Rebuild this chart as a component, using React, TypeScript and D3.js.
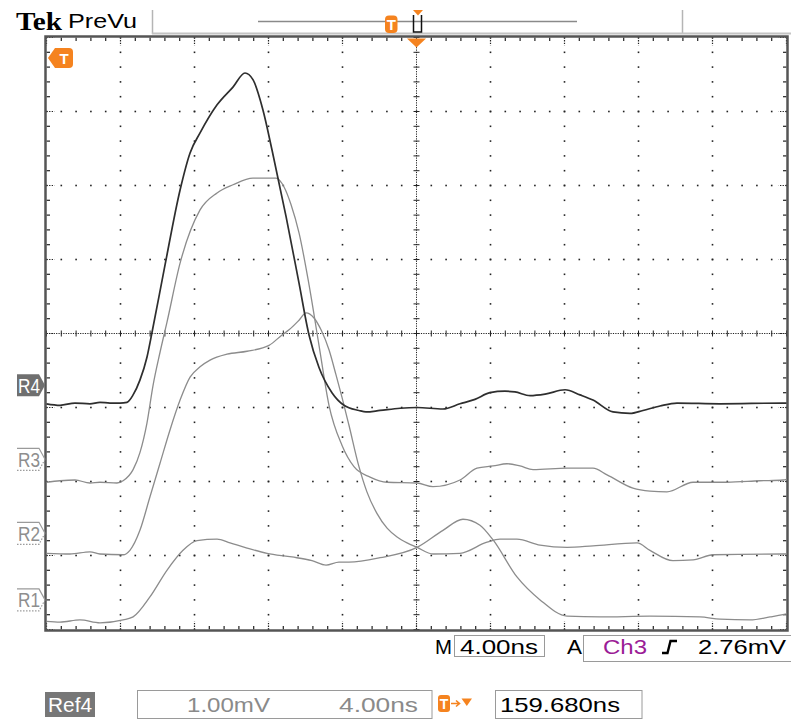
import React from 'react';
import * as d3 from 'd3';

// Horizontal: 4 ns/div, 10 divisions, time relative to the trigger point.
// Vertical: 1 mV/div, 8 divisions, centre = 0.
const timeDomain: [number, number] = [-20, 20];
const divDomain: [number, number] = [-4, 4];

// Reference traces: [time (ns), amplitude (mV) relative to the ref marker]
const ref4: [number, number][] = [
  [-20, -0.25], [-19.27, -0.27], [-18.46, -0.24], [-17.65, -0.25], [-17.11, -0.23], [-16.57, -0.24],
  [-16.03, -0.24], [-15.65, -0.23], [-15.32, -0.13], [-14.95, 0.07], [-14.57, 0.38], [-14.3, 0.71],
  [-13.59, 1.63], [-12.78, 2.64], [-12.24, 3.14], [-11.7, 3.41], [-10.78, 3.79], [-9.92, 4.03],
  [-9.27, 4.22], [-8.84, 4.13], [-8.3, 3.72], [-7.81, 3.18], [-7.05, 2.28], [-6.35, 1.38],
  [-5.81, 0.68], [-5.27, 0.24], [-4.57, -0.1], [-3.92, -0.27], [-3.11, -0.34], [-2.73, -0.36],
  [-1.97, -0.34], [-0.89, -0.31], [0.03, -0.3], [1.43, -0.32], [2.35, -0.25], [3.16, -0.19],
  [3.97, -0.1], [4.78, -0.08], [5.32, -0.09], [6.14, -0.14], [6.95, -0.12], [8.03, -0.06],
  [8.84, -0.13], [9.54, -0.2], [10.62, -0.36], [11.54, -0.38], [12.24, -0.34], [13.16, -0.28],
  [14.08, -0.24], [16.41, -0.25], [19.81, -0.24], [20, -0.24],
];

const ref3: [number, number][] = [
  [-20, -0.31], [-19.27, -0.29], [-18.46, -0.28], [-17.65, -0.32], [-17.11, -0.31], [-16.19, -0.32],
  [-15.86, -0.29], [-15.32, -0.14], [-14.95, 0.09], [-14.57, 0.49], [-14.24, 1.0], [-13.86, 1.45],
  [-13.49, 1.85], [-12.78, 2.65], [-11.7, 3.37], [-10.78, 3.6], [-9.92, 3.71], [-8.84, 3.8],
  [-7.59, 3.8], [-7.16, 3.68], [-6.78, 3.44], [-6.35, 3.06], [-5.81, 2.36], [-5.27, 1.54],
  [-4.73, 0.73], [-4.03, 0.19], [-3.38, -0.1], [-2.51, -0.24], [-1.59, -0.31], [0.03, -0.32],
  [0.89, -0.37], [2.35, -0.28], [3.27, -0.12], [4.14, -0.09], [4.89, -0.06], [5.59, -0.09],
  [6.3, -0.14], [8.14, -0.12], [9.54, -0.12], [10.3, -0.21], [11.7, -0.39], [12.62, -0.43],
  [13.54, -0.44], [14.95, -0.31], [16.78, -0.31], [18.57, -0.29], [19.81, -0.28], [20, -0.27],
];

const ref2: [number, number][] = [
  [-20, -0.27], [-18.73, -0.28], [-17.65, -0.25], [-17.11, -0.28], [-15.86, -0.29], [-15.49, -0.23],
  [-14.95, 0.04], [-14.41, 0.49], [-13.86, 0.95], [-13.32, 1.4], [-12.78, 1.8], [-12.24, 2.11],
  [-11.7, 2.25], [-11.16, 2.34], [-10.24, 2.42], [-9.16, 2.46], [-7.97, 2.54], [-7.27, 2.68],
  [-6.89, 2.75], [-6.35, 2.88], [-5.97, 2.98], [-5.54, 2.91], [-5.16, 2.75], [-4.73, 2.48],
  [-4.35, 2.14], [-4.03, 1.84], [-3.65, 1.46], [-3.11, 0.9], [-2.68, 0.56], [-2.14, 0.27],
  [-1.59, 0.07], [-1.05, -0.05], [-0.51, -0.13], [0.03, -0.19], [0.89, -0.28], [2.35, -0.27],
  [3.81, -0.12], [4.51, -0.08], [5.43, -0.08], [6.68, -0.16], [8.14, -0.19], [9.54, -0.17],
  [11.92, -0.13], [12.62, -0.23], [13.86, -0.37], [14.95, -0.36], [16.03, -0.29], [19.81, -0.28],
  [20, -0.28],
];

const ref1: [number, number][] = [
  [-20, -0.29], [-19.27, -0.3], [-18.19, -0.27], [-17.11, -0.31], [-15.86, -0.27], [-15.32, -0.23],
  [-14.41, 0.04], [-13.49, 0.4], [-12.62, 0.67], [-11.86, 0.8], [-10.78, 0.82], [-10.08, 0.77],
  [-9.16, 0.7], [-8.08, 0.63], [-6.73, 0.58], [-5.65, 0.53], [-4.89, 0.47], [-4.19, 0.51],
  [-3.65, 0.51], [-1.97, 0.57], [0.03, 0.71], [1.43, 0.94], [2.51, 1.09], [3.43, 1.01],
  [4.14, 0.81], [5.43, 0.31], [6.68, 0.0], [8.14, -0.22], [9.92, -0.23], [12.62, -0.22],
  [15.32, -0.23], [16.41, -0.26], [18.03, -0.27], [19.11, -0.23], [19.81, -0.2], [20, -0.19],
];

// Ref names, their ground-marker positions (divisions) and trace data
const refNames = ['R1', 'R2', 'R3', 'R4'];
const refPositions = [-3.6, -2.7, -1.7, -0.7];
const refData = [ref1, ref2, ref3, ref4];
const activeRef = 'R4';

// Readouts
const timebaseLabel = '4.00ns';
const triggerSource = 'Ch3';
const triggerLevel = '2.76mV';
const refScaleLabels = ['1.00mV', '4.00ns'];
const triggerDelay = '159.680ns';

const W = 791;
const H = 721;
const plot = { left: 46.5, right: 786.5, top: 37.5, bottom: 629.5 };
const ORANGE = '#f5831f';
const FONT = '"Liberation Sans", Arial, sans-serif';

export default function App() {
  const x = d3.scaleLinear().domain(timeDomain).range([plot.left, plot.right]);
  const y = d3.scaleLinear().domain(divDomain).range([plot.bottom, plot.top]);

  const majorX = d3.range(-20, 20.001, 4);
  const majorY = d3.range(-4, 4.001, 1);
  const minorX = d3.range(-20, 20.001, 0.8);
  const minorY = d3.range(-4, 4.001, 0.2);

  const dots: JSX.Element[] = [];
  majorX.slice(1, -1).forEach((mx) => {
    if (Math.abs(mx) < 1e-6) return;
    minorY.forEach((my, j) => {
      dots.push(<rect key={`vx${mx}-${j}`} x={x(mx) - 0.8} y={y(my) - 0.8} width={1.6} height={1.6} fill="#222" />);
    });
  });
  majorY.slice(1, -1).forEach((my) => {
    if (Math.abs(my) < 1e-6) return;
    minorX.forEach((mx, j) => {
      dots.push(<rect key={`hy${my}-${j}`} x={x(mx) - 0.8} y={y(my) - 0.8} width={1.6} height={1.6} fill="#222" />);
    });
  });

  // Centre cross ticks and border ticks
  const ticks: JSX.Element[] = [];
  minorX.forEach((mx, j) => {
    const px = x(mx);
    const isMajor = j % 5 === 0;
    ticks.push(<line key={`cx${j}`} x1={px} x2={px} y1={y(0) - 3} y2={y(0) + 3} stroke="#222" strokeWidth={1} />);
    ticks.push(<line key={`tx${j}`} x1={px} x2={px} y1={plot.top} y2={plot.top + (isMajor ? 8 : 3.5)} stroke="#222" strokeWidth={1.2} strokeDasharray={isMajor ? '1.3,1.3' : undefined} />);
    ticks.push(<line key={`bx${j}`} x1={px} x2={px} y1={plot.bottom} y2={plot.bottom - (isMajor ? 8 : 3.5)} stroke="#222" strokeWidth={1.2} strokeDasharray={isMajor ? '1.3,1.3' : undefined} />);
  });
  minorY.forEach((my, j) => {
    const py = y(my);
    const isMajor = j % 5 === 0;
    ticks.push(<line key={`cy${j}`} x1={x(0) - 3} x2={x(0) + 3} y1={py} y2={py} stroke="#222" strokeWidth={1} />);
    ticks.push(<line key={`ly${j}`} x1={plot.left} x2={plot.left + (isMajor ? 8 : 3.5)} y1={py} y2={py} stroke="#222" strokeWidth={1.2} strokeDasharray={isMajor ? '1.3,1.3' : undefined} />);
    ticks.push(<line key={`ry${j}`} x1={plot.right} x2={plot.right - (isMajor ? 8 : 3.5)} y1={py} y2={py} stroke="#222" strokeWidth={1.2} strokeDasharray={isMajor ? '1.3,1.3' : undefined} />);
  });

  const traces = refNames.map((name, i) => {
    const off = refPositions[i];
    const line = d3
      .line<[number, number]>()
      .x((d) => x(d[0]))
      .y((d) => y(d[1] + off))
      .curve(d3.curveMonotoneX);
    const active = name === activeRef;
    return (
      <path
        key={name}
        d={line(refData[i]) || ''}
        fill="none"
        stroke={active ? '#2e2e2e' : '#8c8c8c'}
        strokeWidth={active ? 1.7 : 1.3}
        strokeLinejoin="round"
      />
    );
  });

  const markers = refNames.map((name, i) => {
    const cy = y(refPositions[i]);
    const active = name === activeRef;
    const top = cy - 11;
    const bot = cy + 11;
    if (active) {
      return (
        <g key={name}>
          <path d={`M17,${top} H39 L45,${cy} L39,${bot} H17 Z`} fill="#6f6f6f" />
          <text x={18} y={cy + 7.5} fontFamily={FONT} fontSize={20} fill="#fff" textLength={22} lengthAdjust="spacingAndGlyphs">
            {name}
          </text>
        </g>
      );
    }
    return (
      <g key={name}>
        <path d={`M17,${top} H39 L45,${cy}`} fill="none" stroke="#9a9a9a" strokeWidth={1.2} />
        <path d={`M45,${cy} L39,${bot} H17`} fill="none" stroke="#9a9a9a" strokeWidth={1.2} strokeDasharray="1.5,1.5" />
        <text x={18} y={cy + 7.5} fontFamily={FONT} fontSize={20} fill="#8e8e8e" textLength={22} lengthAdjust="spacingAndGlyphs">
          {name}
        </text>
      </g>
    );
  });

  const trigX = x(0);

  return (
    <svg width={W} height={H} style={{ position: 'absolute', left: 0, top: 0, background: '#fff' }}>
      <rect width={W} height={H} fill="#fff" />

      {/* Header */}
      <text x={16} y={30} fontFamily='"Liberation Serif", "Times New Roman", serif' fontWeight="bold" fontSize={26} fill="#000" textLength={46} lengthAdjust="spacingAndGlyphs">
        Tek
      </text>
      <text x={68} y={28} fontFamily={FONT} fontSize={21} fill="#000" textLength={69} lengthAdjust="spacingAndGlyphs">
        PreVu
      </text>
      <line x1={152.5} x2={152.5} y1={10} y2={34} stroke="#b5b5b5" strokeWidth={1.5} />
      <line x1={682.5} x2={682.5} y1={10} y2={34} stroke="#b5b5b5" strokeWidth={1.5} />
      <line x1={152} x2={791} y1={33.5} y2={33.5} stroke="#c4c4c4" strokeWidth={2} />
      {/* Record view bar */}
      <line x1={258} x2={577} y1={21.5} y2={21.5} stroke="#8a8a8a" strokeWidth={1.5} />
      <rect x={385} y={15.5} width={12.5} height={17.5} rx={4} fill={ORANGE} />
      <text x={391.3} y={30} textAnchor="middle" fontFamily={FONT} fontWeight="bold" fontSize={15} fill="#fff">T</text>
      <path d="M413.5,15 V32 H421.5 V15" fill="none" stroke="#111" strokeWidth={1.5} />
      <path d={`M413,10 H423 L418,15.5 Z`} fill={ORANGE} />

      {/* Graticule */}
      {dots}
      <line x1={plot.left} x2={plot.right} y1={y(0)} y2={y(0)} stroke="#222" strokeWidth={1} strokeDasharray="1.2,1.2" />
      <line x1={x(0)} x2={x(0)} y1={plot.top} y2={plot.bottom} stroke="#222" strokeWidth={1} strokeDasharray="1.2,1.2" />
      {ticks}
      <rect x={plot.left - 1} y={plot.top - 1} width={plot.right - plot.left + 2} height={plot.bottom - plot.top + 2} fill="none" stroke="#555" strokeWidth={2.5} />

      {/* Trigger position and level markers */}
      <path d={`M${trigX - 9.5},38.5 H${trigX + 9.5} L${trigX},47.5 Z`} fill={ORANGE} />
      <path d="M48,58 L55,48 H69 Q73,48 73,52 V64 Q73,68 69,68 H55 Z" fill={ORANGE} />
      <text x={64} y={64} textAnchor="middle" fontFamily={FONT} fontWeight="bold" fontSize={15} fill="#fff">T</text>

      {/* Waveforms */}
      {traces}
      {markers}

      {/* Status readouts */}
      <text x={435} y={654} fontFamily={FONT} fontSize={20} fill="#000" textLength={17} lengthAdjust="spacingAndGlyphs">M</text>
      <rect x={454.5} y={635.5} width={90} height={21} fill="none" stroke="#9a9a9a" strokeWidth={1} />
      <text x={460} y={654} fontFamily={FONT} fontSize={20} fill="#000" textLength={78} lengthAdjust="spacingAndGlyphs">{timebaseLabel}</text>
      <text x={567} y={654} fontFamily={FONT} fontSize={20} fill="#000" textLength={15} lengthAdjust="spacingAndGlyphs">A</text>
      <rect x={583.5} y={635.5} width={210} height={26} fill="none" stroke="#9a9a9a" strokeWidth={1} />
      <text x={603} y={654} fontFamily={FONT} fontSize={20} fill="#9b1c96" textLength={44} lengthAdjust="spacingAndGlyphs">{triggerSource}</text>
      <path d="M662,653 H667.5 L670.5,641 H677" fill="none" stroke="#000" strokeWidth={2.4} />
      <text x={698} y={654} fontFamily={FONT} fontSize={20} fill="#000" textLength={88} lengthAdjust="spacingAndGlyphs">{triggerLevel}</text>

      <rect x={45} y={692} width={50} height={25} fill="#777" />
      <text x={48} y={712} fontFamily={FONT} fontSize={20} fill="#fff" textLength={44} lengthAdjust="spacingAndGlyphs">Ref4</text>
      <rect x={137.5} y={690.5} width={294.5} height={28} fill="none" stroke="#9a9a9a" strokeWidth={1} />
      <text x={187} y={712} fontFamily={FONT} fontSize={21} fill="#8a8a8a" textLength={83} lengthAdjust="spacingAndGlyphs">{refScaleLabels[0]}</text>
      <text x={339} y={712} fontFamily={FONT} fontSize={21} fill="#8a8a8a" textLength={79} lengthAdjust="spacingAndGlyphs">{refScaleLabels[1]}</text>
      <rect x={438} y={695} width={12} height={17} rx={3} fill={ORANGE} />
      <text x={444} y={709} textAnchor="middle" fontFamily={FONT} fontWeight="bold" fontSize={14} fill="#fff">T</text>
      <path d="M451,703.5 H459 M456,700.5 L459.5,703.5 L456,706.5" fill="none" stroke={ORANGE} strokeWidth={1.6} />
      <path d="M461.5,698.5 H472 L466.8,706 Z" fill={ORANGE} />
      <rect x={495.5} y={690.5} width={146.5} height={28} fill="none" stroke="#9a9a9a" strokeWidth={1} />
      <text x={500} y={712} fontFamily={FONT} fontSize={21} fill="#000" textLength={120} lengthAdjust="spacingAndGlyphs">{triggerDelay}</text>
    </svg>
  );
}
